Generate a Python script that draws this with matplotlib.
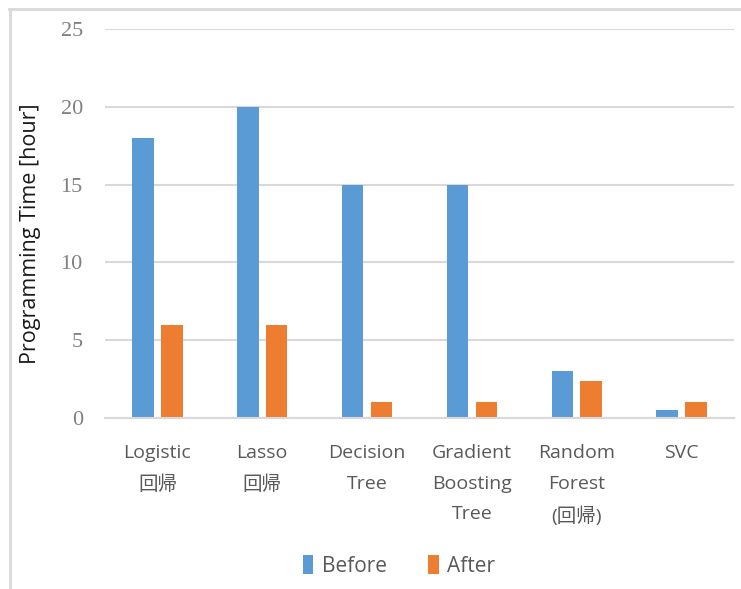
import matplotlib
matplotlib.use("Agg")
import matplotlib.pyplot as plt
from matplotlib.lines import Line2D
import numpy as np

# Programming time per model, before and after
categories = ["Logistic\n回帰", "Lasso\n回帰", "Decision\nTree",
              "Gradient\nBoosting\nTree", "Random\nForest\n(回帰)", "SVC"]
before = [18, 20, 15, 15, 3, 0.5]
after = [6, 6, 1, 1, 2.4, 1]
yticks = [0, 5, 10, 15, 20, 25]

BLUE = "#5b9bd5"
ORANGE = "#ed7d31"
GRID = "#d9d9d9"
TEXT = "#595959"
SANS = ["Open Sans", "Noto Sans CJK JP", "DejaVu Sans"]

fig = plt.figure(figsize=(7.41, 5.89), dpi=100)
ax = fig.add_axes([105 / 741, 1 - 418 / 589, 629 / 741, 389 / 589])

x = np.arange(len(categories))
w = 0.205
off = 0.137
ax.bar(x - off, before, width=w, color=BLUE, zorder=3, label="Before")
ax.bar(x + off, after, width=w, color=ORANGE, zorder=3, label="After")

ax.set_xlim(-0.5, len(categories) - 0.5)
ax.set_ylim(0, 25)
ax.set_yticks(yticks)
ax.set_yticklabels([str(t) for t in yticks], family="Liberation Serif",
                   fontsize=16, color="#808080")
ax.set_xticks(x)
ax.set_xticklabels(categories, family=SANS, fontsize=14, color=TEXT,
                   linespacing=1.88, va="top")
ax.tick_params(axis="both", length=0)
ax.tick_params(axis="y", pad=16)
ax.tick_params(axis="x", pad=19)

ax.grid(axis="y", color=GRID, linewidth=1.5, zorder=0)
for s in ("top", "right", "left"):
    ax.spines[s].set_visible(False)
ax.spines["bottom"].set_color(GRID)
ax.spines["bottom"].set_linewidth(1.5)
ax.spines["bottom"].set_zorder(4)

ax.set_ylabel("Programming Time [hour]", family=SANS, fontsize=15.5,
              color="#1a1a1a")
ax.yaxis.set_label_coords(-64 / 629, 0.475)

leg = fig.legend(loc="center", bbox_to_anchor=(399 / 741, 1 - 566 / 589),
                 ncol=2, frameon=False, handlelength=0.5, handleheight=1.0,
                 handletextpad=0.4, columnspacing=2.0,
                 prop={"family": SANS, "size": 15})
for t in leg.get_texts():
    t.set_color(TEXT)

# Chart area border (top and left edges)
fig.add_artist(Line2D([9 / 741, 1], [1 - 9 / 589, 1 - 9 / 589],
                      transform=fig.transFigure, color=GRID, linewidth=2))
fig.add_artist(Line2D([9.5 / 741, 9.5 / 741], [0, 1 - 9 / 589],
                      transform=fig.transFigure, color=GRID, linewidth=2))

fig.savefig("out.png", dpi=100)
